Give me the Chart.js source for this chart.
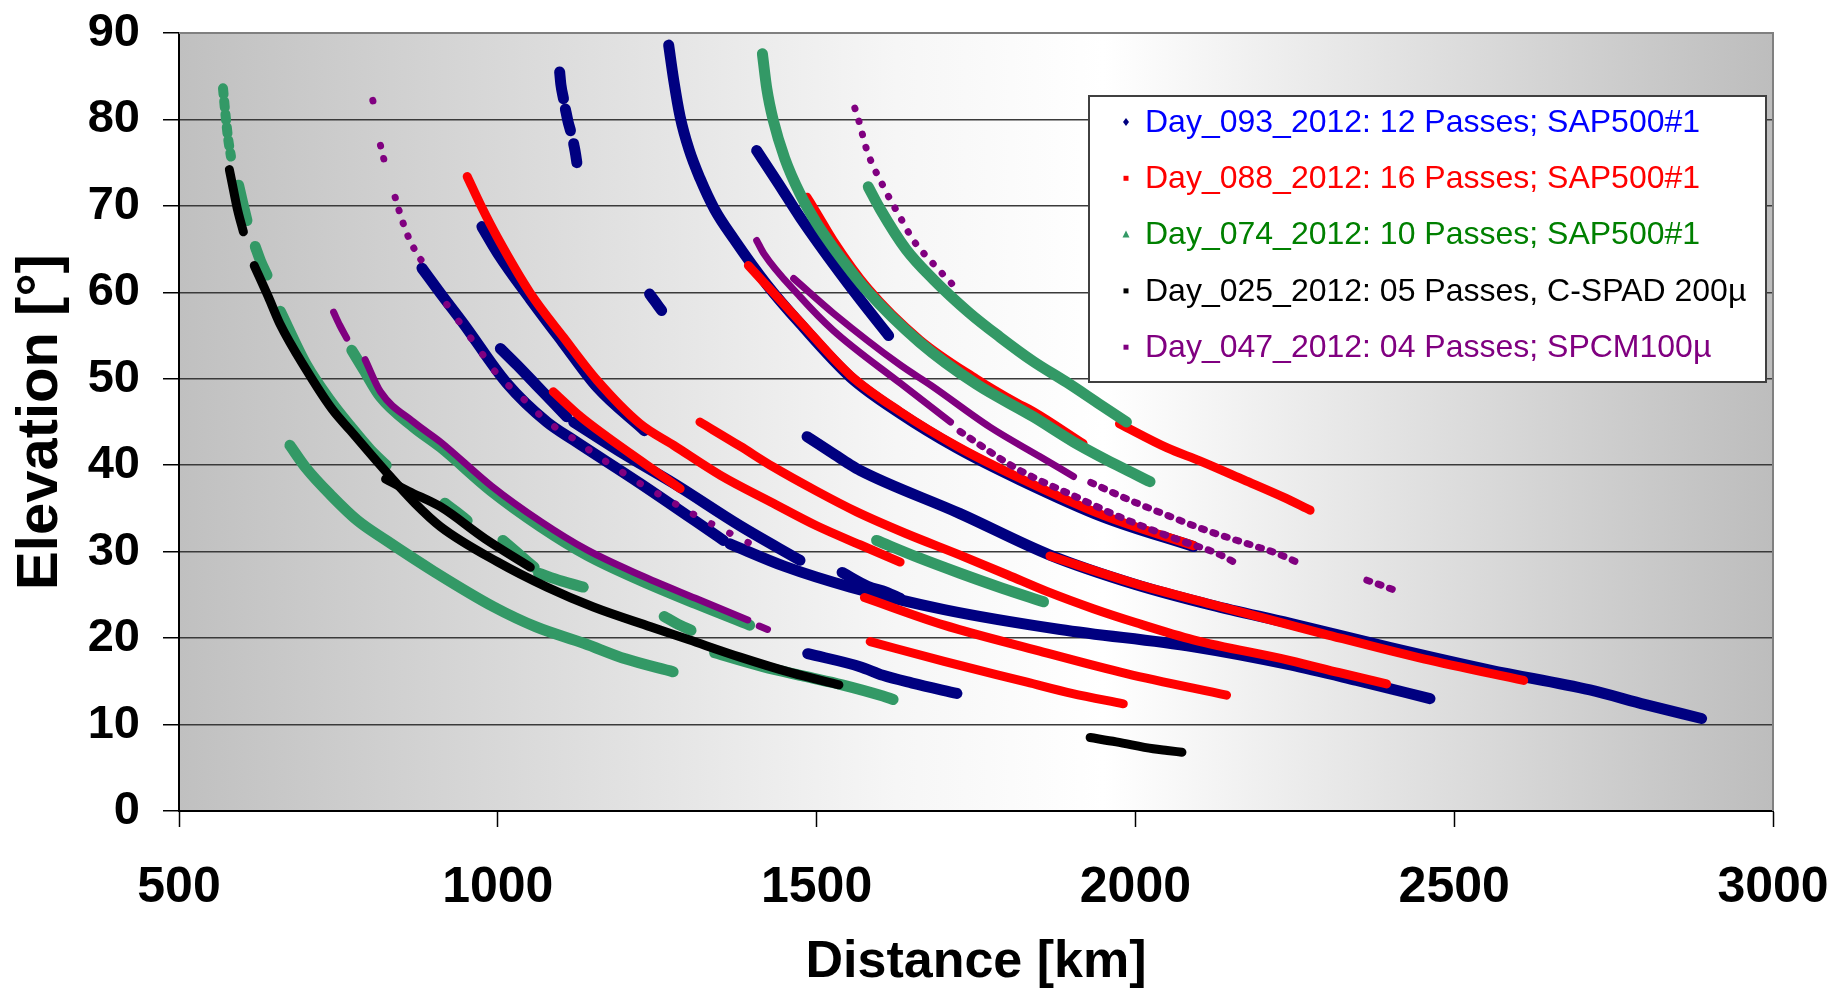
<!DOCTYPE html>
<html>
<head>
<meta charset="utf-8">
<title>Elevation vs Distance</title>
<script src="https://cdn.jsdelivr.net/npm/chart.js@4.4.1/dist/chart.umd.min.js"></script>
<style>
  html, body { margin: 0; padding: 0; background: #fff; }
  #wrap { width: 1832px; height: 993px; }
</style>
</head>
<body>
<div id="wrap"><canvas id="passChart"></canvas></div>
<script>
// values: [distance km, elevation deg]

// Day_093_2012 (blue)
const b01a = [[1097,85.5],[1099,84],[1103,82.4]];
const b01b = [[1106,81.2],[1110,79.8],[1114,78.7]];
const b01c = [[1119,77.2],[1122,76],[1124,75]];
const b02 = [[1238,59.8],[1247,58.9],[1257,57.9]];
const b03 = [[1268,88.6],[1276,84.5],[1286,80.3],[1300,76.5],[1317,73.2],[1340,69.6],[1370,66.2],[1422,60.9],[1474,56.4],[1553,50.2],[1631,46],[1720,42],[1819,38.3],[1950,34],[2091,30.6]];
const b04 = [[1406,76.4],[1440,72.6],[1474,68.7],[1526,63.3],[1570,59],[1613,55]];
const b06 = [[975,67.6],[1000,64.5],[1051,59.2],[1103,54.1],[1156,49],[1230,44]];
const b07a = [[1004,53.5],[1030,51.6],[1060,49.3],[1090,47],[1108,45.6]];
const b07b = [[1119,45],[1200,41.2],[1276,37.9],[1380,33],[1474,29]];
const b08a = [[881,62.8],[910,59.9],[946,56.4],[1014,49.5],[1077,45],[1119,42.9],[1223,37.9],[1354,31.3]];
const b08b = [[1364,30.9],[1450,28.3],[1553,25.9],[1700,23.3],[1882,21],[2091,19],[2243,16.9],[2347,15.1],[2462,13]];
const b09 = [[1485,43.3],[1529,41.2],[1552,40.1],[1568,39.4],[1725,34.4],[1866,29.6],[2000,26.2],[2120,23.8],[2243,21.7],[2400,18.9],[2556,16.3],[2713,14],[2800,12.3],[2888,10.7]];
const b10 = [[1540,27.6],[1580,26],[1610,25.3],[1631,24.6]];
const b11 = [[1486,18.2],[1568,16.7],[1604,15.7],[1650,14.8],[1720,13.6]];

// Day_088_2012 (red)
const r01 = [[952,73.4],[975,69.8],[999,66.4],[1051,59.9],[1103,54.8],[1156,49.8],[1223,44.8],[1276,42.3],[1350,38.8],[1432,35.6],[1500,33],[1568,30.8],[1631,28.8]];
const r02 = [[1087,48.5],[1130,45.6],[1171,43.3],[1230,40.2],[1286,37.3]];
const r03 = [[1317,45],[1380,42.2],[1432,39.8],[1500,37],[1563,34.6],[1640,32.1],[1725,29.6],[1800,27.3],[1861,25.4],[1934,23.4],[2000,21.8],[2091,19.8],[2243,17.4],[2320,16],[2394,14.7]];
const r04 = [[1575,24.7],[1700,21.5],[1850,18.5],[1986,15.9],[2143,13.4]];
const r05 = [[1584,19.6],[1700,17.3],[1830,14.9],[1900,13.6],[1981,12.4]];
const r07 = [[1866,29.5],[2000,26.3],[2120,23.9],[2243,21.5],[2295,20.5],[2452,17.6],[2609,15.1]];
const r08 = [[1485,71],[1500,69.2],[1526,66],[1580,60.5],[1662,54.5],[1750,50],[1814,47.2],[1840,46.2],[1918,42.5]];
const r09 = [[1393,63.1],[1474,56.6],[1553,50.4],[1631,46.2],[1720,42.2],[1819,38.5],[1950,34.2],[2091,30.7]];
const r10 = [[1975,44.8],[2050,42],[2101,40.5],[2170,38.3],[2232,36.3],[2274,34.8]];

// Day_074_2012 (green)
const g01a = [[569,83.6],[573,80.5],[577,77.8],[581.5,75.7]];
const g01b = [[593.5,72.4],[600,70.3],[606.6,68.3]];
const g01c = [[619.6,65.3],[628,63.6],[638,62]];
const g01d = [[659,57.8],[700,51.6],[740,47.2],[769,44.5],[800,41.8],[825,40]];
const g02 = [[674,42.3],[700,39.6],[740,36.4],[780,33.6],[825,31.3],[900,27.7],[994,23.6],[1060,21.3],[1135,19.4],[1200,17.6],[1275,16.1]];
const g03 = [[1415,87.6],[1422,83.5],[1432,79.9],[1450,75.5],[1474,71.4],[1500,68],[1526,65.2],[1579,60.2],[1662,54.2],[1750,49.4],[1840,45.6],[1903,42.7],[1971,40],[2023,38.1]];
const g04 = [[1581,72.2],[1600,69.6],[1640,65],[1683,61.5],[1740,57.6],[1788,54.8],[1840,52],[1892,49.6],[1945,47],[1986,45]];
const g06 = [[1594,31.3],[1660,29.3],[1725,27.5],[1790,25.8],[1856,24.2]];
const g07a = [[917,35.6],[935,34.6],[952,33.6]];
const g07b = [[1008,31.3],[1030,29.9],[1057,28.2]];
const g07c = [[1064,27.5],[1100,26.6],[1134,25.9]];
const g07d = [[1261,22.5],[1280,21.7],[1303,20.9]];
const g07e = [[1340,18.3],[1416,16.7],[1480,15.6],[1540,14.6],[1604,13.3],[1620,12.9]];
const g08 = [[771,53.3],[790,51],[816,47.9],[868,44.4],[910,42.1],[990,37],[1067,32.9],[1140,29.6],[1223,26.7],[1310,24],[1395,21.5]];

// Day_025_2012 (black)
const k01 = [[579,74.2],[585,72],[592,69.5],[601,67]];
const k02 = [[618,63.1],[640,59.5],[658,56.4],[700,51],[740,46.5],[769,44],[824,39.3],[870,35.6],[910,32.9],[1000,28.8],[1077,25.9],[1150,23.6],[1240,21.3],[1300,19.8],[1380,17.8],[1460,16],[1535,14.6]];
const k03 = [[824,38.4],[860,37],[910,35.2],[980,31.5],[1051,28.2]];
const k04 = [[1929,8.5],[1970,8],[2028,7.2],[2050,7],[2073,6.8]];

// Day_047_2012 (purple)
const p01a = [[804,82.2],[808,80.9]];
const p01b = [[816,77],[820,75.8],[823.5,74.7]];
const p01c = [[839,71],[845,69.5],[857.5,66.8],[873,64.5],[889,62.8]];
const p01d = [[920,58.6],[972.5,53.2],[1004,50.1],[1030,48.4],[1077,45.1],[1120,43],[1156,41.1],[1223,37.9],[1270,35.9],[1300,34.6],[1381,31.5],[1416,30.2]];
const p02 = [[1560,81.3],[1566,79.9],[1579,76.4],[1605,72.2],[1631,68.7],[1652,66],[1683,63.3],[1712,61]];
const pA1 = [[1406,66],[1417,64.5],[1474,59.5],[1526,55.6],[1631,49.5],[1710,45]];
const pA2 = [[1725,43.9],[1814,39.6],[1908,36.3],[1976,34],[2070,31.3],[2128,29.8],[2160,28.6]];
const pB1 = [[1464,61.6],[1526,57.6],[1631,51.6],[1680,49.2],[1772,44.4],[1850,41],[1903,38.7]];
const pB2 = [[1930,38],[1990,36],[2050,34.2],[2110,32.5],[2185,30.7],[2222,29.8],[2253,28.8]];
const pB3 = [[2363,26.7],[2390,26],[2415,25.3]];
const p05a = [[742.5,57.7],[752,56.2],[763,54.7]];
const p05b = [[792,52.2],[816,48.5],[868,45],[910,42.7],[990,37.6],[1067,33.5],[1140,30.2],[1223,27.3],[1310,24.6],[1392,22.1]];
const p05c = [[1410,21.4],[1423,21]];

const xTicks = [500, 1000, 1500, 2000, 2500, 3000];
const yTicks = [0, 10, 20, 30, 40, 50, 60, 70, 80, 90];

const NAVY = '#000080', RED = '#ff0000', SEA = '#339966', BLK = '#000000', PURP = '#800080';
const FONT = "'Liberation Sans', Arial, Helvetica, sans-serif";

function pass(arr, color, width, order, dash) {
  return {
    data: arr.map(p => ({ x: p[0], y: p[1] })),
    borderColor: color, backgroundColor: color,
    borderWidth: width, showLine: true, pointRadius: 0,
    borderCapStyle: 'round', borderJoinStyle: 'round',
    cubicInterpolationMode: 'monotone',
    borderDash: dash || [], order: order
  };
}

const datasets = [
  // blue at the bottom, purple on top
  ...[b01a, b01b, b01c, b02, b03, b04, b06, b07a, b07b, b08a, b08b, b09, b10, b11].map(a => pass(a, NAVY, 11, 5)),
  ...[r01, r02, r03, r04, r05, r07, r08, r09, r10].map(a => pass(a, RED, 9, 4)),
  pass(g01a, SEA, 10, 3, [6, 7]),
  ...[g01b, g01c, g01d, g02, g03, g04, g06, g07a, g07b, g07c, g07d, g07e, g08].map(a => pass(a, SEA, 11, 3)),
  ...[k01, k02, k03, k04].map(a => pass(a, BLK, 9, 2)),
  ...[p01a, p01b, p01c, p02].map(a => pass(a, PURP, 7, 1, [0.5, 13])),
  pass(p01d, PURP, 7, 1, [0.5, 20]),
  ...[pA1, pB1, p05a, p05b, p05c].map(a => pass(a, PURP, 7, 1)),
  ...[pA2, pB2, pB3].map(a => pass(a, PURP, 7, 1, [3, 9]))
];

const legendItems = [
  { text: 'Day_093_2012: 12 Passes; SAP500#1', color: '#0000ff', mark: NAVY, shape: 'diamond' },
  { text: 'Day_088_2012: 16 Passes; SAP500#1', color: '#ff0000', mark: RED, shape: 'square' },
  { text: 'Day_074_2012: 10 Passes; SAP500#1', color: '#008000', mark: SEA, shape: 'triangle' },
  { text: 'Day_025_2012: 05 Passes, C-SPAD 200\u00b5', color: '#000000', mark: BLK, shape: 'square' },
  { text: 'Day_047_2012: 04 Passes; SPCM100\u00b5', color: '#800080', mark: PURP, shape: 'square' }
];

// gradient plot area + grey frame
const plotBack = {
  id: 'plotBack',
  beforeDraw(chart) {
    const { ctx, chartArea: a } = chart;
    ctx.save();
    ctx.fillStyle = '#fff';
    ctx.fillRect(0, 0, chart.width, chart.height);
    const g = ctx.createLinearGradient(a.left, 0, a.right, 0);
    g.addColorStop(0, '#c0c0c0');
    g.addColorStop(0.45, '#f6f6f6');
    g.addColorStop(0.58, '#ffffff');
    g.addColorStop(1, '#bdbdbd');
    ctx.fillStyle = g;
    ctx.fillRect(a.left, a.top, a.right - a.left, a.bottom - a.top);
    ctx.restore();
  },
  beforeDatasetsDraw(chart) {
    const { ctx, chartArea: a } = chart;
    ctx.save();
    ctx.strokeStyle = '#808080';
    ctx.lineWidth = 2;
    ctx.beginPath();
    ctx.moveTo(a.left, a.top); ctx.lineTo(a.right, a.top); ctx.lineTo(a.right, a.bottom);
    ctx.stroke();
    ctx.restore();
  }
};

// boxed legend inside the plot
const boxLegend = {
  id: 'boxLegend',
  afterDatasetsDraw(chart) {
    const ctx = chart.ctx;
    const x0 = 1089, y0 = 96, w = 677, h = 286;
    ctx.save();
    ctx.fillStyle = '#fff';
    ctx.fillRect(x0, y0, w, h);
    ctx.strokeStyle = '#404040';
    ctx.lineWidth = 2;
    ctx.strokeRect(x0, y0, w, h);
    ctx.font = '32px ' + FONT;
    ctx.textBaseline = 'middle';
    legendItems.forEach((it, i) => {
      const y = 122 + i * 56.3;
      const mx = 1126;
      ctx.fillStyle = it.mark;
      ctx.beginPath();
      if (it.shape === 'diamond') {
        ctx.moveTo(mx, y - 4); ctx.lineTo(mx + 3, y); ctx.lineTo(mx, y + 4); ctx.lineTo(mx - 3, y);
      } else if (it.shape === 'triangle') {
        ctx.moveTo(mx, y - 4); ctx.lineTo(mx + 3.5, y + 3); ctx.lineTo(mx - 3.5, y + 3);
      } else {
        ctx.rect(mx - 2.5, y - 2.5, 5, 5);
      }
      ctx.fill();
      ctx.fillStyle = it.color;
      ctx.fillText(it.text, 1145, y + 1);
    });
    ctx.restore();
  }
};

// fixed box sizes so the plot area lands where the original has it
function fixBox(s, key, size) {
  s[key] = size;
  s.paddingTop = 0; s.paddingBottom = 0; s.paddingLeft = 0; s.paddingRight = 0;
}

new Chart(document.getElementById('passChart'), {
  type: 'scatter',
  data: { datasets },
  plugins: [plotBack, boxLegend],
  options: {
    responsive: true, maintainAspectRatio: false, animation: false, devicePixelRatio: 1,
    layout: { padding: { top: 33, right: 59, left: 0, bottom: 0 } },
    plugins: { legend: { display: false }, tooltip: { enabled: false } },
    scales: {
      x: {
        type: 'linear', min: 500, max: 3000,
        afterBuildTicks: s => { s.ticks = xTicks.map(v => ({ value: v })); },
        afterFit: s => fixBox(s, 'height', 182),
        ticks: { color: '#000', padding: 31, maxRotation: 0, callback: v => String(v),
                 font: { family: FONT, size: 50, weight: 'bold' } },
        grid: { drawOnChartArea: false, drawTicks: true, tickLength: 16, tickColor: '#000', tickWidth: 1.5 },
        border: { color: '#000', width: 2 },
        title: { display: true, text: 'Distance [km]', color: '#000', padding: { top: 0, bottom: 4 },
                 font: { family: FONT, size: 52, weight: 'bold', lineHeight: 1 } }
      },
      y: {
        type: 'linear', min: 0, max: 90,
        afterBuildTicks: s => { s.ticks = yTicks.map(v => ({ value: v })); },
        afterFit: s => fixBox(s, 'width', 179),
        ticks: { color: '#000', padding: 23, callback: v => String(v),
                 font: { family: FONT, size: 47, weight: 'bold' } },
        grid: { color: '#3a3a3a', lineWidth: 1.5, drawTicks: true, tickLength: 16, tickColor: '#000', tickWidth: 1.5 },
        border: { color: '#000', width: 2 },
        title: { display: true, text: 'Elevation [\u00b0]', color: '#000', padding: { top: 12, bottom: 0 },
                 font: { family: FONT, size: 58, weight: 'bold', lineHeight: 1 } }
      }
    }
  }
});
</script>
</body>
</html>
